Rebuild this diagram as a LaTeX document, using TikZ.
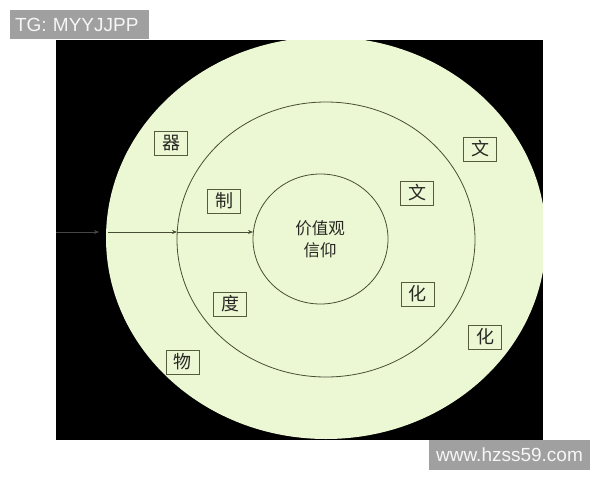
\documentclass[tikz,border=0pt]{standalone}
\usepackage{fontspec}
\setmainfont{Liberation Sans}
\newfontfamily\cjk{Noto Sans CJK SC}
\usetikzlibrary{shapes.geometric,arrows.meta}
\definecolor{ringfill}{RGB}{236,247,212}
\definecolor{ringline}{RGB}{72,78,52}
\definecolor{boxline}{RGB}{85,92,60}
\definecolor{textc}{RGB}{40,40,35}
\definecolor{wmgray}{RGB}{160,160,160}
\definecolor{wmtext}{RGB}{246,246,246}
\definecolor{dimline}{RGB}{70,70,70}
\begin{document}
\begin{tikzpicture}[x=1pt,y=-1pt,
  ring/.style={ellipse, draw=ringline, line width=0.8pt, inner sep=0pt, outer sep=0pt},
  charbox/.style={draw=boxline, line width=0.8pt, minimum width=33pt, minimum height=24pt,
    inner sep=0pt, text=textc, font=\cjk\fontsize{18}{18}\selectfont},
  wmark/.style={fill=wmgray, text=wmtext, inner sep=0pt, font=\fontsize{19}{19}\selectfont},
  flow/.style={draw=ringline, line width=0.7pt, -{Stealth[length=5pt,width=4pt]}},
]
\useasboundingbox (0,0) rectangle (600,480);
% black backdrop
\node[fill=black, minimum width=487pt, minimum height=400pt, inner sep=0pt, outer sep=0pt, anchor=north west] (backdrop) at (56,40) {};
% outer ring, clipped by backdrop
\begin{scope}
  \clip (56,40) rectangle (543,440);
  \node[ellipse, fill=ringfill, minimum width=440pt, minimum height=402pt, inner sep=0pt, outer sep=0pt] (outer) at (326,238) {};
\end{scope}
\node[ring, minimum width=298pt, minimum height=275pt] (middle) at (326,239.5) {};
\node[ring, minimum width=135pt, minimum height=130pt] (inner) at (320.5,239) {};
\node[align=center, text=textc, font=\cjk\fontsize{16.5}{22}\selectfont] (core) at (320,239) {价值观\\信仰};
% arrows
\coordinate (a0) at (56,232);
\coordinate (a1) at (99,232);
\coordinate (a2) at (108,232);
\coordinate (a3) at (177,232);
\coordinate (a4) at (253,232);
\draw[flow, draw=dimline] (a0) -- (a1);
\draw[flow] (a2) -- (a3);
\draw[flow] (a3) -- (a4);
% character boxes
\node[charbox] (qi) at (171,143) {器};
\node[charbox] (zhi) at (224,201) {制};
\node[charbox] (du) at (230,304) {度};
\node[charbox] (wu) at (182.5,362) {物};
\node[charbox] (wenO) at (480,149) {文};
\node[charbox] (wenI) at (417,193) {文};
\node[charbox] (huaI) at (417.5,294) {化};
\node[charbox] (huaO) at (485,337) {化};
% watermarks
\node[wmark, minimum width=139pt, minimum height=29pt, text width=129pt, align=left] (tg) at (79.5,24.5) {TG: MYYJJPP};
\node[wmark, minimum width=161pt, minimum height=30pt] (site) at (509.5,455) {www.hzss59.com};
\end{tikzpicture}
\end{document}
